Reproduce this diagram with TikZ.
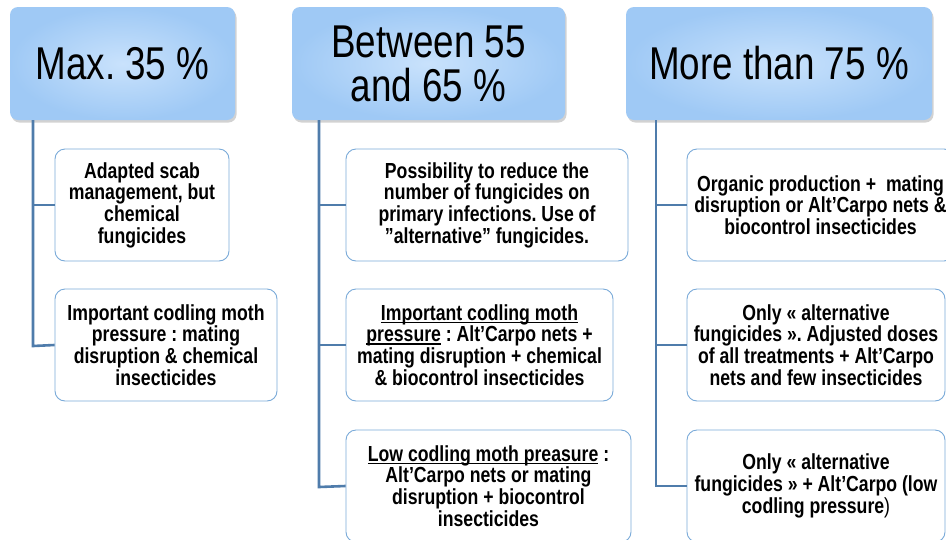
\documentclass[tikz,border=0pt]{standalone}
\usepackage{fontspec}
\setmainfont{Liberation Sans}
\newfontfamily\headfont[FakeStretch=0.8]{Liberation Sans}
\newfontfamily\boxfont[FakeStretch=0.81]{Liberation Sans}
\usetikzlibrary{shadows}
\definecolor{hdin}{HTML}{C9E2FC}
\definecolor{hdout}{HTML}{9FC9F5}
\definecolor{conn}{HTML}{4F7CAB}
\definecolor{bxline}{HTML}{7AAAD9}
\newcommand{\myul}[1]{\setbox0\hbox{#1}\rlap{\rule[-2.6pt]{\wd0}{1.1pt}}\box0\relax}
\frenchspacing
\tikzset{
  header/.style={rounded corners=8pt, inner color=hdin, outer color=hdout,
    drop shadow={opacity=0.35, shadow xshift=1.5pt, shadow yshift=-2.5pt},
    minimum height=113pt, align=center, inner sep=0pt,
    font=\headfont\fontsize{46}{44}\selectfont},
  child/.style={draw=bxline, line width=0.9pt, rounded corners=10pt, fill=white,
    minimum height=112pt, align=center, inner sep=0pt,
    font=\boxfont\bfseries\fontsize{21.8}{21.7}\selectfont},
  link/.style={draw=conn, line width=2.6pt}
}
\begin{document}
\begin{tikzpicture}[x=1pt,y=-1pt]
\useasboundingbox (0,0) rectangle (946,539);
\clip (0,0) rectangle (946,539);
\fill[white] (0,0) rectangle (946,539);

% headers
\node[header, minimum width=225pt] (h1) at (122.5,63.5) {Max. 35 \%};
\node[header, minimum width=273pt] (h2) at (428.5,63.5) {Between 55\\and 65 \%};
\node[header, minimum width=306pt] (h3) at (779,63.5) {More than 75 \%};

% column 1
\coordinate (t1) at (33,120);
\node[child, minimum width=174pt] (a1) at (142,205) {Adapted scab\\management, but\\chemical\\fungicides};
\node[child, minimum width=222pt] (a2) at (166,345) {Important codling moth\\pressure : mating\\disruption \& chemical\\insecticides};
\coordinate (e1) at (33,346);

% column 2
\coordinate (t2) at (319,120);
\node[child, minimum width=282pt] (b1) at (487,205) {Possibility to reduce the\\number of fungicides on\\primary infections. Use of\\”alternative” fungicides.};
\node[child, minimum width=267pt] (b2) at (479.5,345) {\myul{Important codling moth}\\\myul{pressure} : Alt’Carpo nets +\\mating disruption + chemical\\\& biocontrol insecticides};
\node[child, minimum width=285pt] (b3) at (488.5,486) {\myul{Low codling moth preasure} :\\Alt’Carpo nets or mating\\disruption + biocontrol\\insecticides};
\coordinate (e2) at (319,487);

% column 3
\coordinate (t3) at (656,120);
\node[child, minimum width=267pt] (c1) at (820.5,205) {Organic production +\ \ mating\\disruption or Alt’Carpo nets \&\\biocontrol insecticides};
\node[child, minimum width=258pt] (c2) at (816,345) {Only « alternative\\fungicides ». Adjusted doses\\of all treatments + Alt’Carpo\\nets and few insecticides};
\node[child, minimum width=258pt] (c3) at (816,486) {Only « alternative\\fungicides » + Alt’Carpo (low\\codling pressure\mdseries)};
\coordinate (e3) at (656,486);

% connectors
\draw[link] (t1) -- (e1) -- (a2.west);
\draw[link] (t1 |- a1.west) -- (a1.west);
\draw[link] (t2) -- (e2) -- (b3.west);
\draw[link] (t2 |- b1.west) -- (b1.west);
\draw[link] (t2 |- b2.west) -- (b2.west);
\draw[link] (t3) -- (e3) -- (c3.west);
\draw[link] (t3 |- c1.west) -- (c1.west);
\draw[link] (t3 |- c2.west) -- (c2.west);
\end{tikzpicture}
\end{document}
